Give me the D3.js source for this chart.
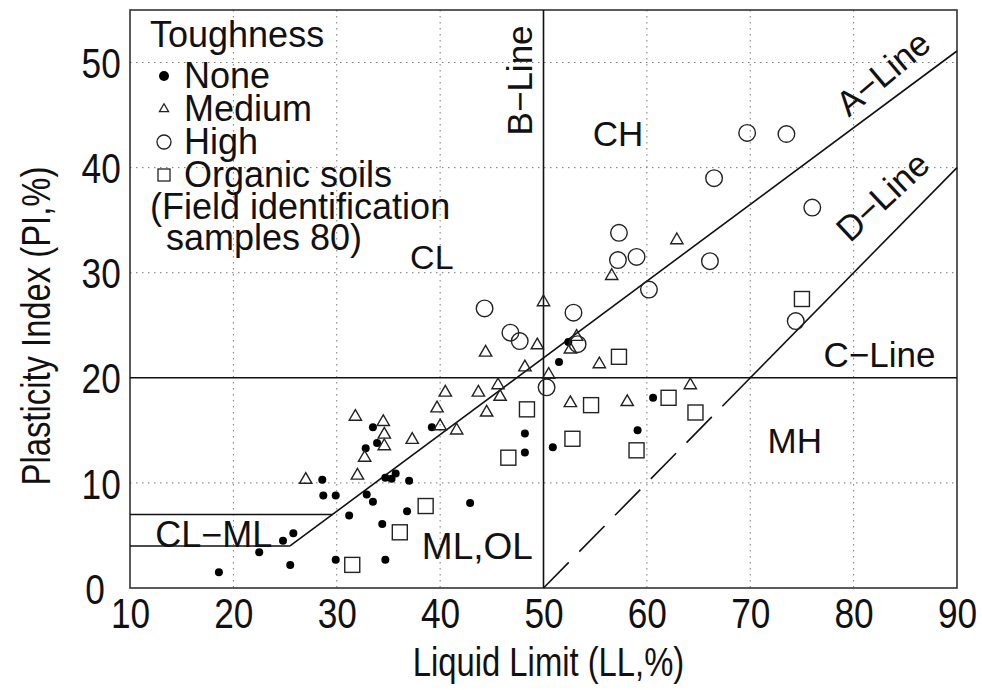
<!DOCTYPE html>
<html>
<head>
<meta charset="utf-8">
<script src="https://cdn.jsdelivr.net/npm/d3@7"></script>
<style>
  body { margin: 0; background: #fff; }
  svg { display: block; }
  .axis-text { font-family: 'Liberation Sans', Arial, sans-serif; fill: #111; }
  .in-text { font-family: 'Liberation Sans', Arial, sans-serif; fill: #111; }
</style>
</head>
<body>
<svg id="chart" width="982" height="690"></svg>
<script>
// ---- data (LL %, PI %) ----
const noneLL = [18.6, 22.5, 24.8, 25.8, 25.5, 28.6, 28.7, 29.9, 31.2, 29.9, 33.5, 33.9, 32.8, 39.2, 34.7, 35.3, 35.7, 37.0, 32.9, 33.5, 36.8, 34.4, 42.9, 34.7, 48.2, 48.2, 50.9, 51.5, 52.4, 60.6, 59.1]
const nonePI = [1.5, 3.4, 4.5, 5.2, 2.2, 10.3, 8.8, 8.8, 6.9, 2.7, 15.3, 13.8, 13.3, 15.3, 10.5, 10.4, 10.9, 10.2, 8.9, 8.2, 7.3, 6.1, 8.1, 2.7, 14.7, 12.9, 13.4, 21.5, 23.4, 18.1, 15.0]

const mediumLL = [27.0, 31.8, 32.0, 34.5, 34.6, 34.6, 32.7, 37.3, 40.5, 39.7, 40.0, 41.6, 43.7, 45.6, 45.8, 44.5, 50.0, 44.4, 49.4, 48.2, 50.5, 62.9, 56.6, 53.2, 52.6, 55.4, 52.6, 58.1, 64.2]
const mediumPI = [10.3, 16.3, 10.7, 15.8, 14.6, 13.5, 12.4, 14.1, 18.6, 17.1, 15.4, 15.0, 18.6, 19.3, 18.2, 16.7, 27.2, 22.4, 23.1, 21.0, 20.3, 33.1, 29.7, 23.9, 22.7, 21.3, 17.6, 17.7, 19.3]

const highLL = [44.3, 46.8, 47.7, 50.3, 57.3, 57.2, 59.0, 66.1, 60.2, 52.9, 53.3, 69.7, 73.5, 66.5, 76.0, 74.4]
const highPI = [26.6, 24.3, 23.5, 19.1, 33.8, 31.2, 31.5, 31.1, 28.4, 26.2, 23.2, 43.3, 43.2, 39.0, 36.2, 25.4]

const organicLL = [31.5, 38.6, 36.1, 48.4, 46.6, 57.3, 54.6, 62.1, 64.7, 52.8, 59.0, 75.0]
const organicPI = [2.2, 7.8, 5.3, 17.0, 12.4, 22.0, 17.4, 18.1, 16.7, 14.2, 13.1, 27.5]

// classification lines
const aLine = [[25.48, 4], [90, 51.1]]
const bLine = [[50, 0], [50, 55]]
const cLine = [[10, 20], [90, 20]]
const dLineSolid = [[67.3, 17.3], [90, 40]]
const dLineDashed = [[50, 0], [67.3, 17.3]]
const clmlTop = [[10, 7], [29.59, 7]]
const clmlBottom = [[10, 4], [25.48, 4]]

const xTicks = [10, 20, 30, 40, 50, 60, 70, 80, 90]
const yTicks = [0, 10, 20, 30, 40, 50]
const xGrid = [20, 30, 40, 60, 70, 80]
const yGrid = [10, 30, 40, 50]

const legendItems = ['None', 'Medium', 'High', 'Organic soils']

// ---- drawing ----
const svg = d3.select('#chart')
const plotLeft = 130
const plotRight = 957
const plotTop = 10
const plotBottom = 588
const narrow = 0.84 // axis font is a condensed face

const x = d3.scaleLinear().domain([10, 90]).range([plotLeft, plotRight])
const y = d3.scaleLinear().domain([0, 55]).range([plotBottom, plotTop])

const plot = svg.append('g')

// dotted grid
plot.append('g')
  .selectAll('line')
  .data(xGrid)
  .join('line')
  .attr('x1', d => x(d)).attr('x2', d => x(d))
  .attr('y1', y(55)).attr('y2', y(0))
  .attr('stroke', '#777')
  .attr('stroke-width', 1)
  .attr('stroke-dasharray', '1.5,4.5')

plot.append('g')
  .selectAll('line')
  .data(yGrid)
  .join('line')
  .attr('x1', x(10)).attr('x2', x(90))
  .attr('y1', d => y(d)).attr('y2', d => y(d))
  .attr('stroke', '#777')
  .attr('stroke-width', 1)
  .attr('stroke-dasharray', '1.5,4.5')

// frame
plot.append('rect')
  .attr('x', x(10)).attr('y', y(55))
  .attr('width', x(90) - x(10)).attr('height', y(0) - y(55))
  .attr('fill', 'none')
  .attr('stroke', '#333')
  .attr('stroke-width', 1.6)

// tick labels only (no domain, no tick marks)
const xAxis = d3.axisBottom(x).tickValues(xTicks).tickSize(0).tickPadding(10)
svg.append('g')
  .attr('transform', `translate(0,${plotBottom})`)
  .call(xAxis)
  .call(g => g.select('.domain').remove())
  .call(g => g.selectAll('text')
    .attr('class', 'axis-text')
    .attr('font-size', 42)
    .attr('dy', '0.72em')
    .attr('transform', `scale(${narrow},1)`))

const yAxis = d3.axisLeft(y).tickValues(yTicks).tickSize(0).tickPadding(11)
svg.append('g')
  .attr('transform', `translate(${plotLeft},0)`)
  .call(yAxis)
  .call(g => g.select('.domain').remove())
  .call(g => g.selectAll('text')
    .attr('class', 'axis-text')
    .attr('font-size', 42)
    .attr('dy', '0.36em')
    .attr('transform', `scale(${narrow},1)`))
  .call(g => g.selectAll('.tick').filter(d => d === 0).select('text')
    .attr('x', -30).attr('dy', '0.38em'))

// axis titles
svg.append('text')
  .attr('class', 'axis-text')
  .attr('transform', `translate(${(plotLeft + plotRight) / 2 + 5},676) scale(0.8,1)`)
  .attr('text-anchor', 'middle')
  .attr('font-size', 41)
  .text('Liquid Limit (LL,%)')

svg.append('text')
  .attr('class', 'axis-text')
  .attr('transform', `translate(50,${(plotTop + plotBottom) / 2 + 27}) rotate(-90) scale(0.8,1)`)
  .attr('text-anchor', 'middle')
  .attr('font-size', 41)
  .text('Plasticity Index (PI,%)')

// classification lines
const line = d3.line().x(d => x(d[0])).y(d => y(d[1]))
const lineSets = [aLine, bLine, cLine, dLineSolid, clmlTop, clmlBottom]
plot.append('g')
  .selectAll('path')
  .data(lineSets)
  .join('path')
  .attr('d', line)
  .attr('fill', 'none')
  .attr('stroke', '#111')
  .attr('stroke-width', 1.6)

plot.append('path')
  .attr('d', line(dLineDashed))
  .attr('fill', 'none')
  .attr('stroke', '#111')
  .attr('stroke-width', 1.6)
  .attr('stroke-dasharray', '36,15')

// region labels
const label = (txt, lx, ly, rot, size) => {
  plot.append('text')
    .attr('class', 'in-text')
    .attr('font-size', size || 35)
    .attr('text-anchor', 'middle')
    .attr('transform', `translate(${x(lx)},${y(ly)}) rotate(${rot || 0})`)
    .text(txt)
}
label('CL', 39.2, 30.4, 0, 34)
label('CH', 57.2, 42.1, 0, 35)
label('CL\u2212ML', 18.1, 3.9, 0, 36)
label('ML,OL', 43.6, 2.75, 0, 37)
label('MH', 74.3, 12.8, 0, 35)
label('C\u2212Line', 82.5, 21.0, 0, 35)
label('B\u2212Line', 48.9, 48.3, -90, 35)
label('A\u2212Line', 83.6, 48.1, -40, 35)
label('D\u2212Line', 83.6, 36.4, -43, 35)

// markers
const markerGroup = plot.append('g')
const sym = (type, size) => d3.symbol().type(type).size(size)()

markerGroup.append('g')
  .selectAll('circle')
  .data(noneLL.map((v, i) => [v, nonePI[i]]))
  .join('circle')
  .attr('cx', d => x(d[0])).attr('cy', d => y(d[1]))
  .attr('r', 4)
  .attr('fill', '#000')

markerGroup.append('g')
  .selectAll('path')
  .data(mediumLL.map((v, i) => [v, mediumPI[i]]))
  .join('path')
  .attr('d', sym(d3.symbolTriangle, 66))
  .attr('transform', d => `translate(${x(d[0])},${y(d[1])})`)
  .attr('fill', 'none')
  .attr('stroke', '#222')
  .attr('stroke-width', 1.4)

markerGroup.append('g')
  .selectAll('circle')
  .data(highLL.map((v, i) => [v, highPI[i]]))
  .join('circle')
  .attr('cx', d => x(d[0])).attr('cy', d => y(d[1]))
  .attr('r', 8.3)
  .attr('fill', 'none')
  .attr('stroke', '#222')
  .attr('stroke-width', 1.4)

markerGroup.append('g')
  .selectAll('rect')
  .data(organicLL.map((v, i) => [v, organicPI[i]]))
  .join('rect')
  .attr('x', d => x(d[0]) - 7.5).attr('y', d => y(d[1]) - 7.5)
  .attr('width', 15).attr('height', 15)
  .attr('fill', 'none')
  .attr('stroke', '#222')
  .attr('stroke-width', 1.4)

// legend
const legend = svg.append('g').attr('transform', 'translate(150,0)')
legend.append('text')
  .attr('class', 'in-text')
  .attr('font-size', 36)
  .attr('y', 47)
  .text('Toughness')

const legendRows = legend.selectAll('g.row')
  .data(legendItems)
  .join('g')
  .attr('class', 'row')
  .attr('transform', (d, i) => `translate(0,${88 + i * 33})`)

legendRows.append('text')
  .attr('class', 'in-text')
  .attr('font-size', 36)
  .attr('x', 34)
  .text(d => d)

legendRows.each(function (d, i) {
  const g = d3.select(this)
  const cy = -12
  if (i === 0) {
    g.append('circle').attr('cx', 14).attr('cy', cy).attr('r', 5).attr('fill', '#000')
  } else if (i === 1) {
    g.append('path').attr('d', sym(d3.symbolTriangle, 36))
      .attr('transform', `translate(14,${cy})`)
      .attr('fill', 'none').attr('stroke', '#222').attr('stroke-width', 1.3)
  } else if (i === 2) {
    g.append('circle').attr('cx', 14).attr('cy', cy).attr('r', 7)
      .attr('fill', 'none').attr('stroke', '#222').attr('stroke-width', 1.3)
  } else {
    g.append('rect').attr('x', 8).attr('y', cy - 6).attr('width', 12).attr('height', 12)
      .attr('fill', 'none').attr('stroke', '#222').attr('stroke-width', 1.3)
  }
})

legend.append('text')
  .attr('class', 'in-text')
  .attr('font-size', 36)
  .attr('y', 219)
  .text('(Field identification')

legend.append('text')
  .attr('class', 'in-text')
  .attr('font-size', 36)
  .attr('x', 16)
  .attr('y', 250)
  .text('samples 80)')
</script>
</body>
</html>
